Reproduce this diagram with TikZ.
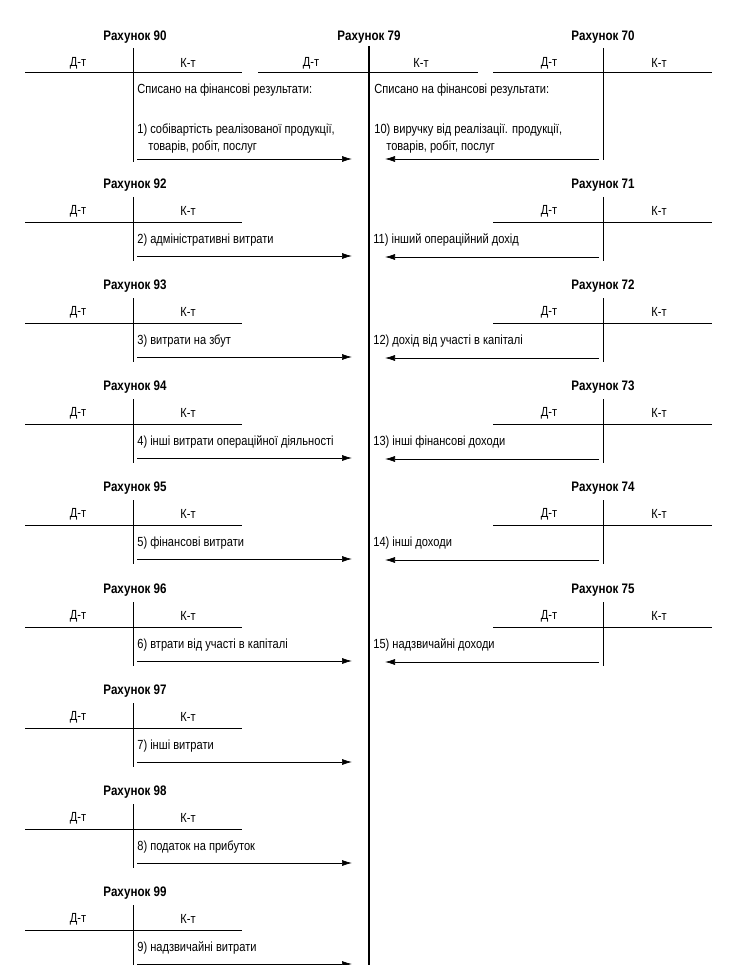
\documentclass[tikz,border=0pt]{standalone}
\usepackage{fontspec}
\setmainfont{Liberation Sans}[FakeStretch=0.84]
\usetikzlibrary{arrows.meta}
\begin{document}
\begin{tikzpicture}[x=1pt,y=-1pt,line width=0.7pt,
  every node/.style={inner sep=0pt,font=\fontsize{13.2}{15}\selectfont},
  title/.style={font=\bfseries\fontsize{13.8}{16}\selectfont},
  entry/.style={anchor=west},
  flow/.style={-{Latex[length=10pt,width=6pt]}}]
\useasboundingbox (0,0) rectangle (730,965);
% top row: accounts 90, 79, 70
\node[title] (t90) at (135,37) {Рахунок 90};
\node[title] (t79) at (369,37) {Рахунок 79};
\node[title] (t70) at (603,37) {Рахунок 70};
\node (dt90) at (78,63) {Д-т}; \node (kt90) at (188,63) {К-т};
\node (dt79) at (311,63) {Д-т}; \node (kt79) at (421,63) {К-т};
\node (dt70) at (549,63) {Д-т}; \node (kt70) at (659,63) {К-т};
\draw (25,72) -- (242,72); \draw (258,72) -- (478,72); \draw (493,72) -- (712,72);
\draw (133,48) -- (133,162); \draw (603,48) -- (603,160);
\draw[line width=1.2pt] (369,46) -- (369,965);
% written off to financial results
\node[entry] (h90) at (137,90) {Списано на фінансові результати:};
\node[entry] (e90) at (137,130) {1) собівартість реалізованої продукції,};
\node[entry] (e90b) at (148,147) {товарів, робіт, послуг};
\node[entry] (h70) at (374,90) {Списано на фінансові результати:};
\node[entry] (e70) at (374,130) {10) виручку від реалізації. продукції,};
\node[entry] (e70b) at (386,147) {товарів, робіт, послуг};
\coordinate (s90) at (137,159); \coordinate (f90) at (352,159);
\coordinate (s70) at (599,159); \coordinate (f70) at (385,159);
\draw[flow] (s90) -- (f90); \draw[flow] (s70) -- (f70);
% expense accounts (left)
\foreach \n/\T/\txt in {92/185/2) адміністративні витрати,93/286/3) витрати на збут,
  94/387/4) інші витрати операційної діяльності,95/488/5) фінансові витрати,
  96/590/6) втрати від участі в капіталі,97/691/7) інші витрати,
  98/792/8) податок на прибуток,99/893/9) надзвичайні витрати} {
  \node[title] (t\n) at (135,\T) {Рахунок \n};
  \node (dt\n) at (78,\T+26) {Д-т}; \node (kt\n) at (188,\T+26) {К-т};
  \draw (25,\T+37) -- (242,\T+37);
  \draw (133,\T+12) -- (133,\T+76);
  \node[entry] (e\n) at (137,\T+55) {\txt};
  \coordinate (s\n) at (137,\T+71); \coordinate (f\n) at (352,\T+71);
  \draw[flow] (s\n) -- (f\n);
}
% income accounts (right)
\foreach \n/\T/\txt in {71/185/11) інший операційний дохід,72/286/12) дохід від участі в капіталі,
  73/387/13) інші фінансові доходи,74/488/14) інші доходи,75/590/15) надзвичайні доходи} {
  \node[title] (t\n) at (603,\T) {Рахунок \n};
  \node (dt\n) at (549,\T+26) {Д-т}; \node (kt\n) at (659,\T+26) {К-т};
  \draw (493,\T+37) -- (712,\T+37);
  \draw (603,\T+12) -- (603,\T+76);
  \node[entry] (e\n) at (373,\T+55) {\txt};
  \coordinate (s\n) at (599,\T+72); \coordinate (f\n) at (385,\T+72);
  \draw[flow] (s\n) -- (f\n);
}
\end{tikzpicture}
\end{document}
